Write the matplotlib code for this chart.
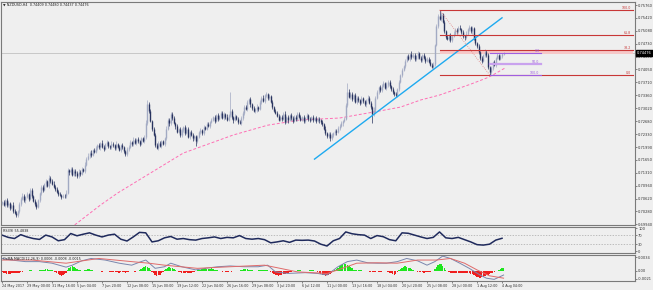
import numpy as np
import matplotlib.pyplot as plt

# NZDUSD H4 candles, prices in pips (7052 = 0.7052); open of a bar = previous close
close_pips = [
    7052, 7046, 7058, 7044, 7050, 7038, 7046, 7030, 7024, 7018,
    7028, 7048, 7062, 7070, 7058, 7066, 7074, 7062, 7084, 7070,
    7056, 7048, 7040, 7058, 7076, 7092, 7086, 7100, 7108, 7096,
    7116, 7110, 7102, 7094, 7088, 7080, 7074, 7072, 7066, 7070,
    7068, 7078, 7138, 7132, 7142, 7126, 7136, 7130, 7122, 7134,
    7128, 7140, 7136, 7152, 7168, 7176, 7184, 7178, 7192, 7186,
    7196, 7204, 7198, 7210, 7200, 7194, 7206, 7212, 7202, 7198,
    7208, 7204, 7196, 7208, 7200, 7192, 7204, 7198, 7188, 7180,
    7194, 7200, 7212, 7206, 7218, 7210, 7220, 7214, 7208, 7222,
    7216, 7226, 7262, 7312, 7296, 7268, 7246, 7232, 7204, 7196,
    7210, 7202, 7214, 7208, 7222, 7248, 7270, 7262, 7288, 7276,
    7262, 7254, 7240, 7246, 7230, 7244, 7252, 7236, 7248, 7226,
    7238, 7232, 7222, 7228, 7214, 7226, 7238, 7244, 7236, 7252,
    7248, 7260, 7256, 7266, 7272, 7278, 7268, 7284, 7274, 7282,
    7290, 7276, 7286, 7280, 7272, 7284, 7294, 7278, 7270, 7282,
    7274, 7266, 7262, 7276, 7290, 7306, 7300, 7318, 7326, 7312,
    7302, 7294, 7298, 7306, 7300, 7318, 7330, 7322, 7336, 7340,
    7328, 7334, 7318, 7306, 7296, 7290, 7282, 7272, 7280, 7274,
    7288, 7266, 7278, 7270, 7284, 7276, 7268, 7280, 7274, 7286,
    7280, 7272, 7278, 7268, 7276, 7284, 7274, 7270, 7278, 7272,
    7276, 7268, 7274, 7270, 7266, 7260, 7248, 7236, 7228, 7234,
    7222, 7230, 7236, 7242, 7238, 7250, 7256, 7262, 7268, 7274,
    7310, 7346, 7332, 7340, 7326, 7336, 7318, 7330, 7324, 7316,
    7328, 7320, 7312, 7324, 7330, 7316, 7306, 7286, 7298, 7330,
    7346, 7358, 7350, 7362, 7368, 7356, 7364, 7372, 7360, 7352,
    7344, 7340, 7336, 7352, 7372, 7390, 7404, 7414, 7428, 7440,
    7434, 7446, 7438, 7444, 7432, 7440, 7448, 7436, 7430, 7442,
    7436, 7428, 7434, 7426, 7418, 7412, 7420, 7470, 7520, 7548,
    7540, 7552, 7530, 7506, 7490, 7486, 7496, 7482, 7494, 7500,
    7510, 7506, 7516, 7512, 7504, 7494, 7490, 7500, 7512, 7518,
    7506, 7514, 7488, 7474, 7466, 7450, 7436, 7428, 7442, 7452,
    7444, 7412, 7398, 7408, 7424, 7418, 7436, 7442, 7434, 7440,
    7446, 7448,
]
first_open = 7050
# upper / lower shadow length beyond the body, pips
wick_up = [
    4, 6, 3, 5, 7, 4, 3, 6, 5, 4,  3, 6, 4, 8, 5, 3, 6, 4, 7, 5,
    3, 5, 6, 4, 3, 7, 5, 4, 6, 3,  8, 5, 4, 6, 3, 5, 4, 6, 3, 5,
    4, 7, 6, 4, 5, 3, 6, 4, 5, 7,  3, 5, 4, 6, 5, 8, 4, 6, 3, 5,
    6, 4, 5, 3, 7, 4, 5, 6, 4, 3,  8, 5, 4, 6, 3, 5, 4, 6, 5, 3,
    5, 4, 6, 3, 7, 5, 4, 6, 3, 5,  4, 6, 8, 13, 6, 5, 4, 6, 3, 5,
    4, 6, 3, 5, 4, 7, 5, 6, 5, 4,  6, 3, 5, 4, 6, 5, 4, 6, 3, 5,
    4, 6, 5, 3, 4, 6, 4, 5, 3, 6,  4, 5, 6, 3, 5, 4, 6, 4, 5, 3,
    6, 4, 5, 3, 6, 4, 50, 6, 4, 5, 3, 6, 4, 5, 6, 4, 5, 6, 4, 5,
    3, 5, 4, 6, 3, 5, 4, 6, 5, 4,  3, 5, 4, 6, 3, 5, 4, 6, 3, 5,
    4, 6, 3, 5, 4, 6, 5, 3, 4, 6,  5, 4, 3, 6, 4, 5, 3, 6, 4, 5,
    3, 5, 4, 6, 3, 5, 4, 7, 3, 5,  4, 6, 3, 5, 4, 6, 3, 5, 4, 6,
    5, 24, 6, 4, 5, 3, 6, 4, 5, 3, 6, 4, 5, 3, 6, 4, 5, 3, 6, 4,
    5, 3, 6, 4, 5, 3, 7, 4, 5, 3,  6, 4, 5, 3, 6, 4, 5, 3, 6, 4,
    5, 3, 7, 4, 5, 3, 6, 4, 5, 3,  6, 4, 5, 3, 6, 4, 5, 3, 6, 4,
    15, 6, 4, 5, 3, 6, 4, 5, 3, 6, 4, 5, 3, 6, 4, 5, 3, 6, 4, 5,
    3, 6, 4, 5, 3, 6, 4, 5, 3, 6,  4, 5, 3, 6, 4, 5, 3, 6, 4, 5,
    3, 4,
]
wick_dn = [
    5, 3, 6, 4, 3, 7, 4, 5, 3, 4,  5, 3, 6, 4, 5, 7, 3, 5, 4, 6,
    4, 6, 5, 3, 6, 4, 5, 3, 7, 4,  5, 6, 3, 4, 5, 3, 6, 4, 5, 3,
    5, 4, 3, 6, 4, 5, 3, 7, 4, 5,  6, 3, 4, 5, 3, 4, 6, 5, 3, 4,
    4, 5, 3, 6, 4, 5, 3, 4, 6, 5,  3, 4, 5, 6, 3, 4, 5, 3, 6, 5,
    4, 6, 3, 5, 4, 3, 6, 4, 5, 3,  4, 6, 5, 4, 6, 3, 5, 4, 6, 3,
    5, 4, 6, 3, 5, 4, 3, 6, 4, 5,  3, 6, 4, 5, 3, 4, 6, 5, 3, 4,
    5, 3, 6, 4, 13, 5, 3, 4, 6, 5, 3, 4, 5, 6, 3, 4, 5, 3, 6, 4,
    5, 3, 4, 6, 5, 3, 4, 5, 6, 3,  4, 5, 3, 4, 6, 5, 3, 4, 5, 6,
    4, 3, 5, 6, 4, 3, 5, 4, 6, 3,  5, 4, 3, 6, 5, 4, 3, 5, 4, 6,
    3, 5, 4, 6, 3, 5, 4, 3, 6, 5,  4, 3, 5, 4, 6, 3, 5, 4, 3, 6,
    5, 4, 3, 6, 5, 4, 3, 5, 6, 4,  8, 3, 5, 4, 6, 3, 5, 4, 6, 3,
    4, 5, 3, 6, 4, 5, 3, 4, 6, 5,  3, 4, 5, 6, 3, 4, 5, 22, 4, 5,
    3, 6, 4, 5, 3, 4, 6, 5, 3, 4,  5, 6, 3, 4, 5, 3, 6, 4, 5, 3,
    4, 6, 5, 3, 4, 5, 6, 3, 4, 5,  3, 6, 4, 5, 3, 4, 6, 5, 3, 4,
    5, 6, 3, 4, 5, 3, 6, 4, 5, 3,  4, 6, 5, 3, 4, 5, 6, 3, 4, 5,
    3, 6, 4, 5, 3, 4, 6, 5, 3, 4,  5, 7, 7, 4, 5, 3, 6, 4, 5, 3,
    4, 3,
]

# 200 MA (pink dashed), read at a few bars
ma_bars = [44, 48, 63, 74, 95, 116, 148, 170, 191, 216, 242, 255, 268, 280, 289, 300, 310, 314, 322]
ma_vals = [0.6985, 0.6997, 0.7045, 0.7077, 0.7130, 0.7183, 0.7231, 0.7257, 0.7271, 0.7276,
           0.7295, 0.7305, 0.7324, 0.7337, 0.7350, 0.7366, 0.7382, 0.7390, 0.7409]

# trend line
trend_bars = [200, 320]
trend_vals = [0.7167, 0.7542]

# fibonacci (red) from the swing high to the swing low
fib_bars = [280, 312]
fib_high = 0.7563
fib_low = 0.7391
fib_levels = [0.0, 38.2, 61.8, 100.0]
# small fibonacci (purple)
pfib_bars = [312, 345]
pfib_zero = 0.7449
pfib_hundred = 0.7391
pfib_levels = [0.0, 50.0, 100.0]

bid = 0.74476
price_ticks = [0.75760, 0.75420, 0.75080, 0.74730, 0.74390, 0.74050, 0.73710, 0.73360, 0.73020,
               0.72680, 0.72330, 0.71990, 0.71650, 0.71310, 0.70960, 0.70620, 0.70280, 0.69940]

# RSI, every 4th bar
rsi_step = 4
rsi_vals = [70, 60, 55, 72, 62, 55, 51, 70, 62, 45,
            50, 77, 67, 74, 80, 70, 62, 70, 74, 52,
            44, 62, 82, 80, 40, 45, 58, 64, 52, 55,
            50, 48, 55, 58, 62, 55, 60, 58, 68, 55,
            52, 55, 50, 36, 40, 45, 38, 48, 47, 48,
            44, 30, 22, 45, 55, 84, 76, 72, 70, 55,
            68, 63, 50, 45, 80, 78, 70, 62, 55, 60,
            84, 58, 55, 60, 50, 40, 28, 26, 30, 48,
            56]

# MACD main and signal lines
macd_bars = [0, 6, 15, 24, 32, 41, 45, 51, 57, 66, 75, 83, 89, 92, 98, 104, 108, 115, 124, 130,
             138, 146, 155, 164, 170, 175, 183, 194, 202, 208, 215, 221, 227, 234, 240, 246, 253,
             259, 266, 272, 277, 282, 287, 293, 299, 306, 310, 315, 321]
macd_main = [0.0031, 0.0027, 0.0023, 0.0023, 0.0019, 0.0009, 0.0014, 0.0025, 0.0031, 0.0027,
             0.0019, 0.0014, 0.0023, 0.0027, 0.0006, 0.0010, 0.0019, 0.0010, 0.0002, 0.0006,
             0.0010, 0.0012, 0.0010, 0.0010, 0.0014, -0.0003, -0.0007, -0.0005, -0.0007, -0.0011,
             0.0010, 0.0023, 0.0027, 0.0020, 0.0019, 0.0019, 0.0023, 0.0031, 0.0025, 0.0014,
             0.0023, 0.0037, 0.0031, 0.0019, 0.0006, -0.0011, -0.0019, -0.0022, -0.0011]
sig_bars = [0, 19, 41, 62, 83, 94, 104, 125, 146, 168, 178, 189, 208, 215, 227, 240, 253, 266,
            278, 287, 296, 304, 312, 321]
sig_vals = [0.0027, 0.0027, 0.0019, 0.0031, 0.0023, 0.0019, 0.0014, 0.0006, 0.0010, 0.0014,
            0.0006, -0.0003, -0.0007, 0.0002, 0.0019, 0.0020, 0.0019, 0.0027, 0.0027, 0.0031,
            0.0019, 0.0002, -0.0013, -0.0019]
# histogram per bar, units of 0.0001
hist = [
    -3, -5, -7, -8, -9, -8, -7, -6, -5, -6, -7, -6, -4, -3, -2, -1,
    -1, 0, 1, 1, 0, -1, -1, 0, 1, 1,
    2, 3, 4, 4, 3, 2, 1,
    -2, -4, -7, -9, -11, -13, -12, -9, -5,
    3, 7, 10, 11, 9, 7, 4,
    2, 1, 0, -1, 1,
    3, 4, 5, 3, 2,
    0, -1, -2, -1, -2, -3, -2, -1, 0,
    -2, -3, -4, -3, -2, -3, -4, -5, -4, -3, -4, -5, -4, -3, -2, -1, -2, -3, -2, -1,
    2, 5, 8, 10, 11, 9, 6, 3,
    -3, -7, -10, -13, -12, -10, -7, -4,
    2, 5, 7, 9, 8, 6, 4, 2,
    -1, -3, -4, -5, -6, -5, -4, -5, -6, -5, -4, -3, -2,
    1, 2, 3, 4, 5, 6, 5, 4, 5, 6, 5, 3, 2, 1,
    -1, -2, -3, -2, -3, -4, -3, -2, -3, -2, -1, -2, -1, 0,
    2, 3, 4, 5, 4, 3, 2,
    1, 0, -1, 0, 1,
    2, 3, 2, 3, 2, 1,
    -2, -4, -6, -8, -10, -12, -13, -12, -11, -9, -8, -6, -5, -4, -3,
    -2, -1, 0, 1, 2, 1, 0, -1, -2, -1, 0, 1, 2, 1, -1, -2,
    -4, -6, -8, -10, -12, -13, -12, -10, -8, -5, -2,
    2, 5, 8, 11, 14, 16, 18, 17, 15, 12, 9, 6, 3,
    3, 2, 2, 1, 1, 0, 0, -1,
    -2, -3, -4, -3, -4, -3, -2, -3, -4, -3, -2, -1, -2, -3,
    -5, -7, -9, -10, -8, -4,
    2, 5, 8, 10, 11, 10, 8, 6, 4, 2,
    -1, -2, -3, -4, -3, -4, -5, -4, -3, -4, -3, -2, -1,
    4, 10, 15, 18, 17, 13, 8, 3,
    -2, -4, -5, -6, -5, -6, -7, -6, -5, -6, -7, -6, -5, -6, -7, -8, -9,
    -11, -13, -15, -17, -18, -17, -16, -14, -12,
    -10, -9, -7, -5, -3, -1, 0,
    2, 4, 6, 7,
]

date_labels = ['24 May 2017', '29 May 00:00', '31 May 16:00', '5 Jun 04:00', '7 Jun 20:00',
               '12 Jun 08:00', '15 Jun 00:00', '19 Jun 12:00', '22 Jun 04:00', '26 Jun 16:00',
               '29 Jun 08:00', '3 Jul 20:00', '6 Jul 12:00', '11 Jul 00:00', '13 Jul 16:00',
               '18 Jul 04:00', '20 Jul 20:00', '25 Jul 08:00', '28 Jul 00:00', '1 Aug 12:00',
               '4 Aug 04:00']
label_step = 16

# ---------------------------------------------------------------
close = np.array(close_pips) / 10000
opn = np.r_[first_open, close_pips[:-1]] / 10000
high = np.maximum(opn, close) + np.array(wick_up) / 10000
low = np.minimum(opn, close) - np.array(wick_dn) / 10000
bars = np.arange(len(close))

BG = '#efefef'
W, H = 653, 290
fig = plt.figure(figsize=(W / 100, H / 100), dpi=100, facecolor=BG)


def panel(top, bottom):
    ax = fig.add_axes([1 / W, 1 - bottom / H, 634 / W, (bottom - top) / H])
    ax.set_facecolor(BG)
    ax.set_xlim(-0.64, 405.1)
    for s in ax.spines.values():
        s.set_color('#7a7a7a')
        s.set_linewidth(0.8)
    ax.yaxis.tick_right()
    ax.tick_params(axis='y', labelsize=2.6, length=1.5, width=0.4, pad=0.8,
                   colors='#333333')
    ax.tick_params(axis='x', bottom=False, labelbottom=False)
    return ax


main = panel(2, 225)
rsi_ax = panel(227, 253)
macd_ax = panel(255, 280.5)

# --- price panel
main.set_ylim(0.69921, 0.75840)
main.set_yticks(price_ticks)
main.set_yticklabels(['%.5f' % p for p in price_ticks])

main.axhline(bid, color='#b8b8b8', lw=0.5, zorder=1)
main.plot(ma_bars, ma_vals, color='#ff6eb4', lw=0.7, dashes=(3, 2), zorder=2)

UP_C = '#a2aac3'
DN_C = '#28335f'
up = close >= opn
dn = ~up
main.vlines(bars[up], low[up], high[up], color=UP_C, lw=0.5, zorder=3)
main.vlines(bars[up], opn[up], close[up], color=UP_C, lw=1.0, zorder=3)
main.vlines(bars[dn], low[dn], high[dn], color=DN_C, lw=0.5, zorder=3)
main.vlines(bars[dn], opn[dn], close[dn], color=DN_C, lw=1.0, zorder=3)

main.plot(trend_bars, trend_vals, color='#1eaaf0', lw=1.0, zorder=4)

# red fibonacci
xmax = main.get_xlim()[1] - 1.5
lvl382 = fib_low + 0.382 * (fib_high - fib_low)
main.fill_between([fib_bars[0], xmax], lvl382 - 0.0010, lvl382, color='#f6c8c8', lw=0, zorder=2)
main.plot(fib_bars, [fib_high, fib_low], color='#e08080', lw=0.6, ls=(0, (1, 1.5)), zorder=4)
for lv in fib_levels:
    y = fib_low + lv / 100 * (fib_high - fib_low)
    main.plot([fib_bars[0], xmax], [y, y], color='#c83737', lw=0.8, zorder=4)
    main.text(xmax - 1, y, '%.1f' % lv, color='#c83737', fontsize=2.3,
              ha='right', va='bottom', zorder=5)

# purple fibonacci
for lv in pfib_levels:
    y = pfib_zero + lv / 100 * (pfib_hundred - pfib_zero)
    if lv == 50.0:
        main.plot(pfib_bars, [y, y], color='#c9a2ee', lw=1.6, zorder=4)
    else:
        main.plot(pfib_bars, [y, y], color='#a05fe0', lw=0.8, zorder=4)
    main.text(pfib_bars[1] - 1, y, '%.1f' % lv, color='#a05fe0', fontsize=2.3,
              ha='right', va='bottom', zorder=5)

main.text(1.003, bid, '%.5f' % bid, transform=main.get_yaxis_transform(),
          fontsize=2.6, color='white', va='center', ha='left', zorder=6,
          bbox=dict(boxstyle='square,pad=0.25', fc='black', ec='black'))
fig.text(3 / W, 1 - 4.5 / H, '\u25bc NZDUSD,H4  0.74409 0.74480 0.74437 0.74476',
         fontsize=2.4, color='#222222', va='center', ha='left')

# --- RSI panel
rsi_ax.set_ylim(-8.8, 105.7)
rsi_ax.set_yticks([100, 70, 30, 0])
rsi_ax.set_yticklabels(['100', '70', '30', '0'])
for lv in [70, 30]:
    rsi_ax.axhline(lv, color='#a8a8a8', lw=0.5, dashes=(2, 2))
rsi_ax.plot(np.arange(len(rsi_vals)) * rsi_step, rsi_vals, color='#1f2a5c', lw=1.1)
fig.text(3 / W, 1 - 230.5 / H, 'RSI(9) 55.4838', fontsize=2.4, color='#222222',
         va='center', ha='left')

# --- MACD panel
macd_ax.set_ylim(-0.00249, 0.00398)
macd_ax.set_yticks([0.0034, 0.0, -0.0021])
macd_ax.set_yticklabels(['0.0034', '0.00', '-0.0021'])
h = np.array(hist) / 10000
macd_ax.bar(bars, h, width=0.9, color=np.where(h >= 0, '#1ee61e', '#f01e1e'), lw=0)
macd_ax.plot(macd_bars, macd_main, color='#7a86ad', lw=0.7)
macd_ax.plot(sig_bars, sig_vals, color='#e06a6a', lw=0.7)
fig.text(3 / W, 1 - 258.5 / H, 'OsMA MACD(12,26,9) 0.0006 -0.0008 -0.0015', fontsize=2.4,
         color='#222222', va='center', ha='left')

macd_ax.tick_params(axis='x', bottom=True, labelbottom=True, labelsize=2.4, length=1.5,
                    width=0.4, pad=1, colors='#333333')
macd_ax.set_xticks(np.arange(len(date_labels)) * label_step)
macd_ax.set_xticklabels(date_labels, ha='left')

fig.savefig('out.png', dpi=100, facecolor=BG)
